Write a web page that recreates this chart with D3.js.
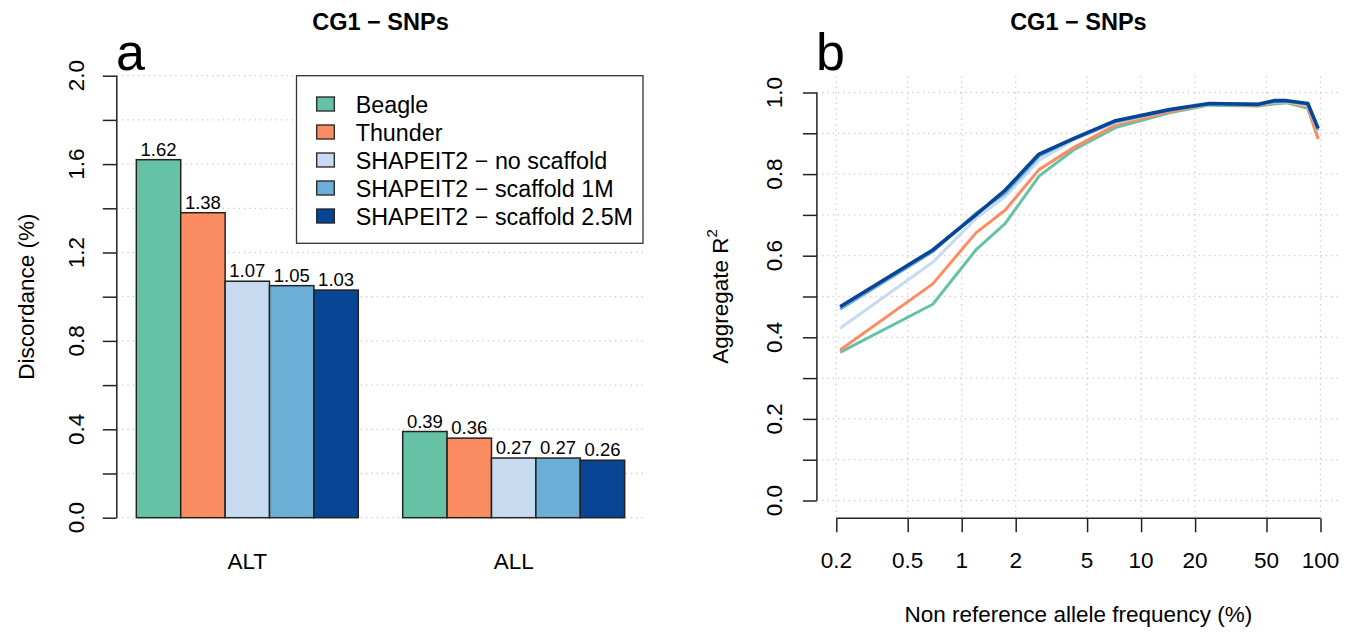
<!DOCTYPE html>
<html>
<head>
<meta charset="utf-8">
<script src="https://cdn.jsdelivr.net/npm/d3@7"></script>
<style>
  body { margin: 0; background: #fff; }
  svg { font-family: "Liberation Sans", Arial, sans-serif; }
</style>
</head>
<body>
<svg id="chart" width="1361" height="633"></svg>
<script>
// ---- data ----
const methods = ['Beagle', 'Thunder', 'SHAPEIT2 \u2212 no scaffold', 'SHAPEIT2 \u2212 scaffold 1M', 'SHAPEIT2 \u2212 scaffold 2.5M'];
const colors = ['#66c2a5', '#fc8d62', '#c6dbef', '#6baed6', '#084594'];
const groups = ['ALT', 'ALL'];
const altValues = [1.62, 1.38, 1.07, 1.05, 1.03];
const allValues = [0.39, 0.36, 0.27, 0.27, 0.26];
const barTicks = [0, 0.2, 0.4, 0.6, 0.8, 1.0, 1.2, 1.4, 1.6, 1.8, 2.0];
const barTickLabels = [0, 0.4, 0.8, 1.2, 1.6, 2.0];

const freq = [0.21, 0.69, 1.2, 1.75, 2.7, 4.2, 7.2, 14.4, 24, 45, 55, 65, 85, 97];
const r2Beagle = [0.363, 0.481, 0.614, 0.679, 0.795, 0.859, 0.914, 0.950, 0.969, 0.967, 0.972, 0.975, 0.961, 0.887];
const r2Thunder = [0.369, 0.531, 0.656, 0.712, 0.811, 0.865, 0.920, 0.953, 0.971, 0.969, 0.974, 0.976, 0.965, 0.886];
const r2NoScaf = [0.422, 0.584, 0.691, 0.745, 0.834, 0.883, 0.926, 0.957, 0.971, 0.971, 0.976, 0.977, 0.969, 0.906];
const r2Scaf1M = [0.469, 0.610, 0.704, 0.753, 0.844, 0.886, 0.928, 0.957, 0.972, 0.971, 0.977, 0.978, 0.971, 0.908];
const r2Scaf25M = [0.475, 0.614, 0.700, 0.761, 0.849, 0.887, 0.931, 0.958, 0.973, 0.971, 0.980, 0.980, 0.973, 0.912];
const freqTicks = [0.2, 0.5, 1, 2, 5, 10, 20, 50, 100];
const r2Ticks = [0, 0.1, 0.2, 0.3, 0.4, 0.5, 0.6, 0.7, 0.8, 0.9, 1.0];
const r2TickLabels = [0, 0.2, 0.4, 0.6, 0.8, 1.0];

const svg = d3.select('#chart');
const gridColor = '#cccccc';
const axisFont = 22.5;

// ================= panel a =================
const xa = d3.scaleLinear().domain([0.56, 12.44]).range([116.8, 644.2]);
const ya = d3.scaleLinear().domain([0, 2]).range([517.7, 75.7]);
const pa = svg.append('g');

// dotted grid
pa.selectAll('line.grid')
  .data(barTicks)
  .enter()
  .append('line')
  .attr('x1', xa.range()[0])
  .attr('x2', xa.range()[1])
  .attr('y1', (d) => ya(d))
  .attr('y2', (d) => ya(d))
  .attr('stroke', gridColor)
  .attr('stroke-width', 1.3)
  .attr('stroke-dasharray', '1.3,4');

// y axis
const yAxisA = pa.append('g')
  .attr('transform', `translate(${xa.range()[0]},0)`)
  .call(d3.axisLeft(ya).tickValues(barTicks).tickSize(14).tickFormat(''));
yAxisA.select('.domain').attr('stroke', '#222').attr('stroke-width', 1.5).attr('d', `M-0,${ya(0)}V${ya(2)}`);
yAxisA.selectAll('.tick line').attr('stroke', '#222').attr('stroke-width', 1.5);
pa.selectAll('text.ytick')
  .data(barTickLabels)
  .enter()
  .append('text')
  .attr('transform', (d) => `translate(76,${ya(d)}) rotate(-90)`)
  .attr('text-anchor', 'middle')
  .attr('dominant-baseline', 'central')
  .attr('font-size', axisFont)
  .text((d) => d.toFixed(1));

// bars
const barData = [];
[altValues, allValues].forEach((vals, g) => {
  vals.forEach((v, i) => barData.push({ g, i, v, left: 1 + g * 6 + i }));
});
pa.selectAll('rect.bar')
  .data(barData)
  .enter()
  .append('rect')
  .attr('x', (d) => xa(d.left))
  .attr('width', (d) => xa(d.left + 1) - xa(d.left))
  .attr('y', (d) => ya(d.v))
  .attr('height', (d) => ya(0) - ya(d.v))
  .attr('fill', (d) => colors[d.i])
  .attr('stroke', '#222')
  .attr('stroke-width', 1.5);
pa.selectAll('text.val')
  .data(barData)
  .enter()
  .append('text')
  .attr('x', (d) => xa(d.left + 0.5))
  .attr('y', (d) => ya(d.v) - 4)
  .attr('text-anchor', 'middle')
  .attr('font-size', 18.5)
  .text((d) => d.v.toFixed(2));

// group labels
pa.selectAll('text.grp')
  .data(groups)
  .enter()
  .append('text')
  .attr('x', (d, g) => xa(1 + g * 6 + 2.5))
  .attr('y', 569)
  .attr('text-anchor', 'middle')
  .attr('font-size', axisFont)
  .text((d) => d);

// legend
const leg = pa.append('g');
leg.append('rect')
  .attr('x', 296.5).attr('y', 75.7).attr('width', 346.5).attr('height', 167.6)
  .attr('fill', '#fff').attr('stroke', '#333').attr('stroke-width', 1.3);
const legItems = leg.selectAll('g.item')
  .data(methods)
  .enter()
  .append('g')
  .attr('transform', (d, i) => `translate(0,${104 + i * 28})`);
legItems.append('rect')
  .attr('x', 316.7).attr('y', -7).attr('width', 17.6).attr('height', 14)
  .attr('fill', (d, i) => colors[i])
  .attr('stroke', '#222').attr('stroke-width', 1.3);
legItems.append('text')
  .attr('x', 355.7)
  .attr('y', 1)
  .attr('dominant-baseline', 'central')
  .attr('font-size', 23.3)
  .text((d) => d);

// titles
pa.append('text')
  .attr('x', (xa.range()[0] + xa.range()[1]) / 2)
  .attr('y', 30)
  .attr('text-anchor', 'middle')
  .attr('font-size', 23.5)
  .attr('font-weight', 'bold')
  .text('CG1 \u2212 SNPs');
pa.append('text')
  .attr('x', 116).attr('y', 70)
  .attr('font-size', 52)
  .text('a');
pa.append('text')
  .attr('transform', `translate(26,${(ya(0) + ya(2)) / 2}) rotate(-90)`)
  .attr('text-anchor', 'middle')
  .attr('dominant-baseline', 'central')
  .attr('font-size', axisFont)
  .text('Discordance (%)');

// ================= panel b =================
const xb = d3.scaleLog().domain([0.2, 100]).range([836.3, 1320.5]);
const yb = d3.scaleLinear().domain([0, 1]).range([500.5, 92.5]);
const plotL = 816.9, plotR = 1339.9, plotT = 76.2, plotB = 516.8;
const pb = svg.append('g');

pb.selectAll('line.hgrid')
  .data(r2Ticks)
  .enter()
  .append('line')
  .attr('x1', plotL).attr('x2', plotR)
  .attr('y1', (d) => yb(d)).attr('y2', (d) => yb(d))
  .attr('stroke', gridColor)
  .attr('stroke-width', 1.3)
  .attr('stroke-dasharray', '1.3,4');
pb.selectAll('line.vgrid')
  .data(freqTicks)
  .enter()
  .append('line')
  .attr('x1', (d) => xb(d)).attr('x2', (d) => xb(d))
  .attr('y1', plotT).attr('y2', plotB)
  .attr('stroke', gridColor)
  .attr('stroke-width', 1.3)
  .attr('stroke-dasharray', '1.3,4');

// y axis
const yAxisB = pb.append('g')
  .attr('transform', `translate(${plotL},0)`)
  .call(d3.axisLeft(yb).tickValues(r2Ticks).tickSize(14).tickFormat(''));
yAxisB.select('.domain').attr('stroke', '#222').attr('stroke-width', 1.5).attr('d', `M-0,${yb(0)}V${yb(1)}`);
yAxisB.selectAll('.tick line').attr('stroke', '#222').attr('stroke-width', 1.5);
pb.selectAll('text.ytick')
  .data(r2TickLabels)
  .enter()
  .append('text')
  .attr('transform', (d) => `translate(774,${yb(d)}) rotate(-90)`)
  .attr('text-anchor', 'middle')
  .attr('dominant-baseline', 'central')
  .attr('font-size', axisFont)
  .text((d) => d.toFixed(1));

// x axis
const xAxisB = pb.append('g')
  .attr('transform', `translate(0,${plotB + 1.5})`)
  .call(d3.axisBottom(xb).tickValues(freqTicks).tickSize(14).tickFormat(''));
xAxisB.select('.domain').attr('stroke', '#222').attr('stroke-width', 1.5).attr('d', `M${xb(0.2)},0H${xb(100)}`);
xAxisB.selectAll('.tick line').attr('stroke', '#222').attr('stroke-width', 1.5);
pb.selectAll('text.xtick')
  .data(freqTicks)
  .enter()
  .append('text')
  .attr('x', (d) => xb(d))
  .attr('y', 568)
  .attr('text-anchor', 'middle')
  .attr('font-size', axisFont)
  .text((d) => d);

// lines
const series = [r2Beagle, r2Thunder, r2NoScaf, r2Scaf1M, r2Scaf25M];
const line = d3.line()
  .x((d, i) => xb(freq[i]))
  .y((d) => yb(d));
pb.selectAll('path.series')
  .data(series)
  .enter()
  .append('path')
  .attr('d', (d) => line(d))
  .attr('fill', 'none')
  .attr('stroke', (d, i) => colors[i])
  .attr('stroke-width', (d, i) => (i == 4 ? 3.6 : 3))
  .attr('stroke-linejoin', 'round');

// titles
pb.append('text')
  .attr('x', (plotL + plotR) / 2)
  .attr('y', 30)
  .attr('text-anchor', 'middle')
  .attr('font-size', 23.5)
  .attr('font-weight', 'bold')
  .text('CG1 \u2212 SNPs');
pb.append('text')
  .attr('x', 816).attr('y', 70)
  .attr('font-size', 52)
  .text('b');
const ylab = pb.append('text')
  .attr('transform', `translate(720,${(plotT + plotB) / 2}) rotate(-90)`)
  .attr('text-anchor', 'middle')
  .attr('dominant-baseline', 'central')
  .attr('font-size', axisFont);
ylab.append('tspan').text('Aggregate R');
ylab.append('tspan').attr('font-size', 15).attr('dy', -9).text('2');
pb.append('text')
  .attr('x', (plotL + plotR) / 2)
  .attr('y', 622)
  .attr('text-anchor', 'middle')
  .attr('font-size', axisFont)
  .text('Non reference allele frequency (%)');
</script>
</body>
</html>
